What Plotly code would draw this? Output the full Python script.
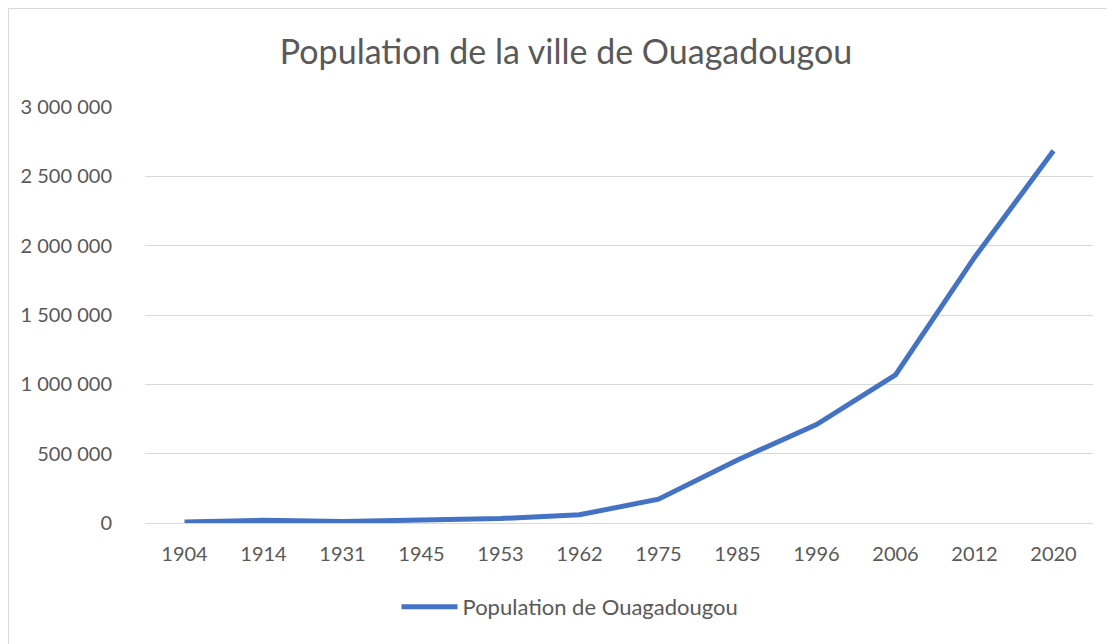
import plotly.graph_objects as go

years = ["1904", "1914", "1931", "1945", "1953", "1962", "1975", "1985", "1996", "2006", "2012", "2020"]
population = [8000, 19000, 11000, 18000, 32000, 59000, 172000, 455000, 710000, 1068000, 1915000, 2684000]
y_ticks = [0, 500000, 1000000, 1500000, 2000000, 2500000, 3000000]

OFF = 8  # browser body margin
W, H = 1115 - OFF, 644 - OFF
L, R, T = 145 - OFF, 22, 107 - OFF
B = H - (523 - OFF)

fig = go.Figure()
fig.add_trace(go.Scatter(
    x=years, y=population, mode="lines",
    name="Population de Ouagadougou",
    line=dict(color="#4472C4", width=5),
))

pw = W - L - R
ph = H - T - B
def px2paper_x(px):
    return (px - L) / pw
def px2paper_y(py):
    return (H - B - py) / ph

FONT = "Lato, Open Sans, sans-serif"
fig.update_layout(
    width=W, height=H,
    margin=dict(l=L, r=R, t=T, b=B),
    paper_bgcolor="white", plot_bgcolor="white",
    separators=", ",
    font=dict(family=FONT, color="#595959", size=20),
    title=dict(text="Population de la ville de Ouagadougou",
               xref="container", yref="container",
               x=(566 - OFF) / W, y=1 - (52 - OFF) / H, xanchor="center", yanchor="middle",
               font=dict(size=34, color="#595959", family=FONT)),
    xaxis=dict(type="category", range=[-0.5, 11.5], showgrid=False, showline=False,
               ticks="", tickfont=dict(size=20, color="#595959"), ticklabelstandoff=17),
    yaxis=dict(range=[0, 3000000], tickvals=y_ticks, tickformat=",d",
               showgrid=True, gridcolor="#D9D9D9", gridwidth=1,
               zeroline=True, zerolinecolor="#D9D9D9", zerolinewidth=1,
               showline=False, ticks="", ticklabelstandoff=32,
               tickfont=dict(size=20, color="#595959")),
    showlegend=True,
    legend=dict(orientation="h", xref="container", yref="container",
                x=(570 - OFF) / W, y=1 - (607 - OFF) / H, xanchor="center", yanchor="middle",
                itemwidth=56, font=dict(size=22, color="#595959")),
    shapes=[dict(type="rect", xref="paper", yref="paper",
                 x0=px2paper_x(0.5), x1=px2paper_x(W + 20),
                 y0=px2paper_y(H + 20), y1=px2paper_y(0.5),
                 line=dict(color="#D9D9D9", width=1), fillcolor="rgba(0,0,0,0)",
                 layer="below")],
)

fig.write_html("out.html")
